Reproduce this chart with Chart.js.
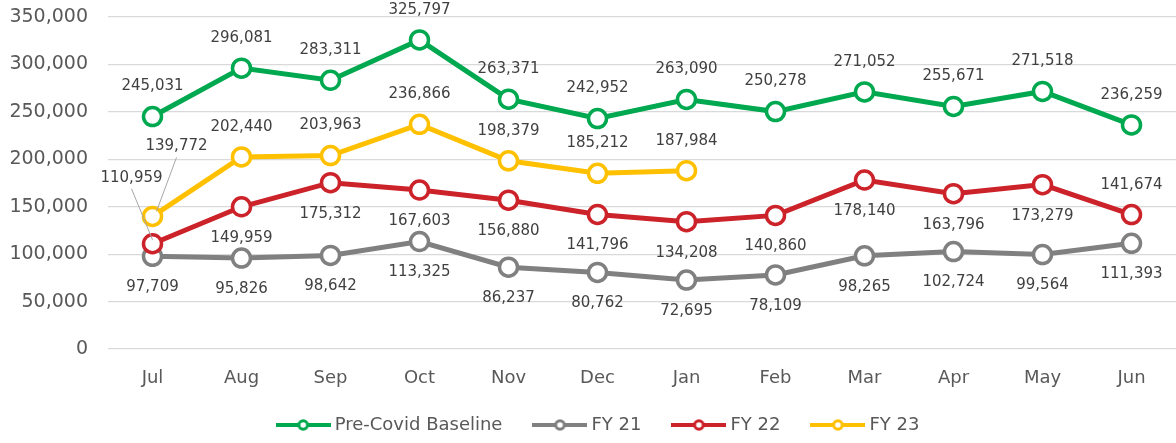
<!DOCTYPE html>
<html><head><meta charset="utf-8">
<script src="https://cdn.jsdelivr.net/npm/chart.js@4/dist/chart.umd.min.js"></script>
<style>html,body{margin:0;padding:0;background:#fff;overflow:hidden}</style>
</head><body>
<canvas id="c" width="1176" height="443"></canvas>
<script>
// ---- data ----
const months = ['Jul','Aug','Sep','Oct','Nov','Dec','Jan','Feb','Mar','Apr','May','Jun'];
const preCovid = [245031,296081,283311,325797,263371,242952,263090,250278,271052,255671,271518,236259];
const fy21 = [97709,95826,98642,113325,86237,80762,72695,78109,98265,102724,99564,111393];
const fy22 = [110959,149959,175312,167603,156880,141796,134208,140860,178140,163796,173279,141674];
const fy23 = [139772,202440,203963,236866,198379,185212,187984,null,null,null,null,null];
const yTicks = [0,50000,100000,150000,200000,250000,300000,350000];

// label placement (styling, separate from data)
const A='above', B='below';
const placePre  = [A,A,A,A,A,A,A,A,A,A,A,A];
const place21   = [B,B,B,B,B,B,B,B,B,B,B,B];
const place22   = [{dx:-21,dy:-66,lx:0,ly:-4},B,B,B,B,B,B,B,B,B,B,A];
const place23   = [{dx:24,dy:-70,lx:4,ly:-5},A,A,A,A,A,A,A,A,A,A,A];

const COL = {green:'#00A84F', gray:'#808080', red:'#CC2229', yellow:'#FFC000'};

function legendIcon(color){
  const cv = document.createElement('canvas');
  cv.width = 55; cv.height = 16;
  const x = cv.getContext('2d');
  x.strokeStyle = color; x.lineWidth = 4;
  x.beginPath(); x.moveTo(0,8); x.lineTo(55,8); x.stroke();
  x.beginPath(); x.arc(27.5,8,4.3,0,Math.PI*2);
  x.fillStyle = '#fff'; x.fill();
  x.lineWidth = 3; x.stroke();
  return cv;
}

function ds(label, data, color, order, place){
  return {label, data, borderColor:color, backgroundColor:'#fff',
    borderWidth:5, pointRadius:9, pointHoverRadius:9, pointBorderWidth:3.5,
    pointBackgroundColor:'#fff', pointBorderColor:color, tension:0, order,
    spanGaps:false, _place:place, _icon:legendIcon(color)};
}

const fmt = v => v.toLocaleString('en-US');

const labelPlugin = {
  id:'valueLabels',
  afterDatasetsDraw(chart){
    const ctx = chart.ctx;
    ctx.save();
    ctx.font = '15px "DejaVu Sans"';
    ctx.fillStyle = '#404040';
    ctx.textAlign = 'center';
    ctx.textBaseline = 'middle';
    chart.data.datasets.forEach((d,di)=>{
      const meta = chart.getDatasetMeta(di);
      meta.data.forEach((pt,i)=>{
        const v = d.data[i];
        if(v==null) return;
        const p = d._place[i];
        let x = pt.x, y = pt.y;
        if(p===A){ y -= 30; }
        else if(p===B){ y += 31; }
        else {
          const lx = pt.x + p.dx, ly = pt.y + p.dy;
          ctx.strokeStyle = '#A6A6A6'; ctx.lineWidth = 1;
          ctx.beginPath();
          ctx.moveTo(lx, ly + 11);
          ctx.lineTo(pt.x + p.lx, pt.y + p.ly);
          ctx.stroke();
          x = lx; y = ly;
        }
        ctx.fillText(fmt(v), x, y);
      });
    });
    ctx.restore();
  }
};

const legendFix = {
  id:'legendFix',
  beforeLayout(chart){
    const lg = chart.legend;
    if(lg && !lg._fixed){
      const f = lg.fit;
      lg.fit = function(){ f.call(this); this.height = 44; };
      lg._fixed = true;
    }
  },
  afterLayout(chart){
    const lg = chart.legend;
    if(lg){ lg.left += 12; lg.right += 12; lg.top -= 18; }
  }
};

new Chart(document.getElementById('c'), {
  type:'line',
  data:{
    labels: months,
    datasets:[
      ds('Pre-Covid Baseline', preCovid, COL.green, 0, placePre),
      ds('FY 21', fy21, COL.gray, 3, place21),
      ds('FY 22', fy22, COL.red, 2, place22),
      ds('FY 23', fy23, COL.yellow, 1, place23)
    ]
  },
  options:{
    responsive:false, animation:false,
    layout:{autoPadding:false, padding:{top:17,left:0,right:0,bottom:0}},
    plugins:{
      tooltip:{enabled:false},
      legend:{
        position:'bottom',
        labels:{
          usePointStyle:true, pointStyleWidth:45, boxHeight:16,
          color:'#595959', font:{family:'DejaVu Sans', size:18}, padding:35,
          generateLabels(chart){
            return chart.data.datasets.map((d,i)=>({
              text:d.label, pointStyle:d._icon, fillStyle:'#fff', strokeStyle:d.borderColor,
              lineWidth:0, hidden:false, datasetIndex:i, fontColor:'#595959'
            }));
          }
        }
      }
    },
    scales:{
      x:{
        offset:true,
        grid:{display:false, drawTicks:false},
        border:{display:false},
        ticks:{color:'#595959', font:{family:'DejaVu Sans', size:18}, padding:19, maxRotation:0},
        afterFit(s){ s.height = 50; s.paddingLeft = 0; s.paddingRight = 0; }
      },
      y:{
        min:0, max:350000,
        afterBuildTicks(s){ s.ticks = yTicks.map(v=>({value:v})); },
        grid:{color:'#D9D9D9', lineWidth:1.2, drawTicks:false},
        border:{display:false},
        ticks:{color:'#595959', font:{family:'DejaVu Sans', size:19}, padding:20,
          callback:v=>fmt(v)},
        afterFit(s){ s.width = 108; s.paddingTop = 0; s.paddingBottom = 0; }
      }
    }
  },
  plugins:[labelPlugin, legendFix]
});
</script>
</body></html>
